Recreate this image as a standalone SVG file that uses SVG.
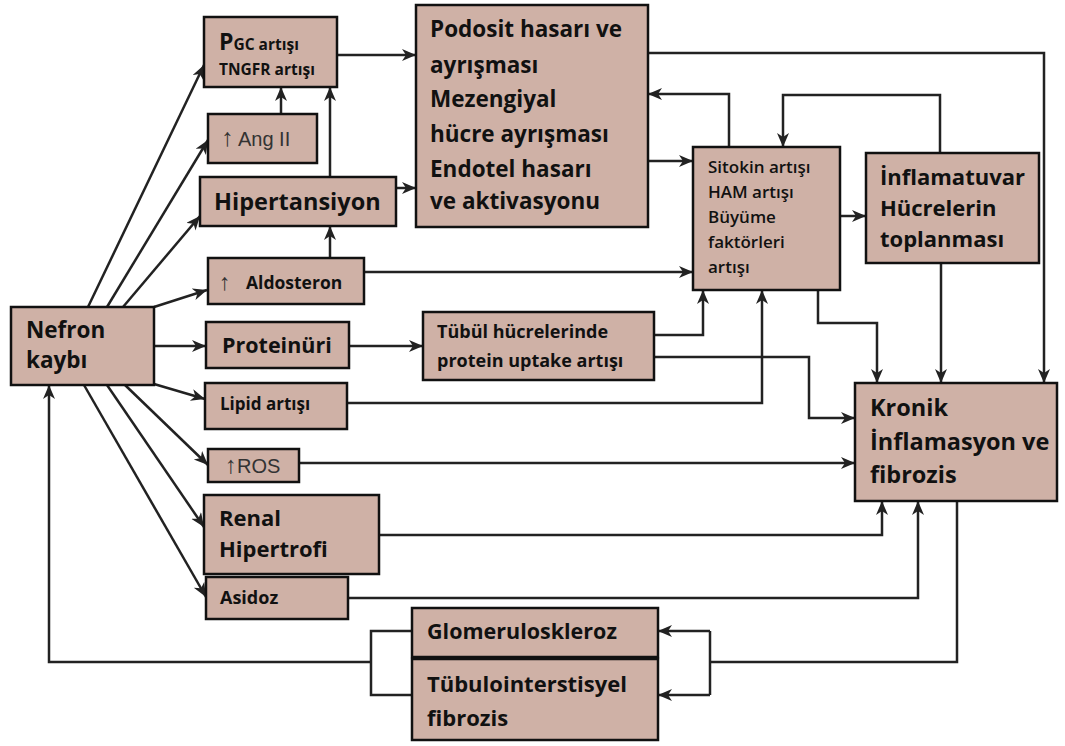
<svg xmlns="http://www.w3.org/2000/svg" width="1065" height="746" viewBox="0 0 1065 746">
<style>
.box{fill:#cfb1a6;stroke:#111;stroke-width:2.5}
.t{font-family:"Open Sans",Lato,"Liberation Sans",sans-serif;font-weight:bold;fill:#111}
.r{font-family:"Open Sans",Lato,"Liberation Sans",sans-serif;font-weight:600;fill:#111}
.g{font-family:"Liberation Sans",Arial,sans-serif;font-weight:normal;fill:#333}
.c{fill:none;stroke:#222;stroke-width:2.5;marker-end:url(#a)}
.n{fill:none;stroke:#222;stroke-width:2.5}
</style>
<defs>
<marker id="a" markerUnits="userSpaceOnUse" markerWidth="16" markerHeight="14" refX="14" refY="6" orient="auto">
<path d="M0,0 L14,6 L0,12 L4,6 z" fill="#222"/>
</marker>
</defs>
<rect width="1065" height="746" fill="#fff"/>
<g id="connectors">
<path class="c" d="M88,307 L204,65"/>
<path class="c" d="M107,307 L208,140"/>
<path class="c" d="M123,307 L200,216"/>
<path class="c" d="M154,307 L207,290"/>
<path class="c" d="M154,346 L206,346"/>
<path class="c" d="M154,384 L205,399"/>
<path class="c" d="M125,385 L208,465"/>
<path class="c" d="M107,385 L204,527"/>
<path class="c" d="M84,385 L206,597"/>
<path class="c" d="M281,114 L281,87"/>
<path class="c" d="M330,177 L330,87"/>
<path class="c" d="M330,258 L330,226"/>
<path class="c" d="M337,55 L416,55"/>
<path class="c" d="M396,188 L416,188"/>
<path class="c" d="M648,53 L1044,53 L1044,383"/>
<path class="c" d="M729,147 L729,94 L648,94"/>
<path class="c" d="M940,153 L940,95 L783,95 L783,147"/>
<path class="c" d="M648,161 L693,161"/>
<path class="c" d="M840,216 L866,216"/>
<path class="c" d="M364,272 L693,272"/>
<path class="c" d="M349,346 L423,346"/>
<path class="c" d="M654,335 L703,335 L703,290"/>
<path class="c" d="M347,403 L762,403 L762,290"/>
<path class="c" d="M818,290 L818,323 L877,323 L877,383"/>
<path class="c" d="M941,263 L941,383"/>
<path class="c" d="M654,357 L809,357 L809,418 L855,418"/>
<path class="c" d="M299,463 L855,463"/>
<path class="c" d="M379,535 L882,535 L882,501"/>
<path class="c" d="M348,598 L918,598 L918,501"/>
<path class="n" d="M957,501 L957,662 L710,662"/>
<path class="n" d="M710,631 L710,695"/>
<path class="c" d="M710,631 L658,631"/>
<path class="c" d="M710,695 L658,695"/>
<path class="n" d="M412,631 L371,631 L371,695 L412,695"/>
<path class="c" d="M371,662 L49,662 L49,385"/>
</g>
<g id="pgc">
<rect class="box" x="204" y="17" width="133" height="70"/>
<text class="t" x="219" y="50" font-size="23">P<tspan font-size="15.5">GC artışı</tspan></text>
<text class="t" x="219" y="75" font-size="15.5">TNGFR artışı</text>
</g>
<g id="angii">
<rect class="box" x="208" y="114" width="109" height="49"/>
<text class="g" x="221" y="146" font-size="20"><tspan font-size="25">↑</tspan> Ang II</text>
</g>
<g id="hipertansiyon">
<rect class="box" x="200" y="177" width="196" height="49"/>
<text class="t" x="214" y="210" font-size="23.5">Hipertansiyon</text>
</g>
<g id="aldosteron">
<rect class="box" x="208" y="258" width="156" height="46"/>
<text class="g" x="219" y="290" font-size="23">↑</text>
<text class="t" x="246" y="289" font-size="17.5">Aldosteron</text>
</g>
<g id="nefron">
<rect class="box" x="11" y="307" width="143" height="78"/>
<text class="t" x="26" y="338" font-size="22.5">Nefron</text>
<text class="t" x="26" y="368" font-size="22.5">kaybı</text>
</g>
<g id="proteinuri">
<rect class="box" x="206" y="322" width="143" height="46"/>
<text class="t" x="222" y="353" font-size="21.5">Proteinüri</text>
</g>
<g id="lipid">
<rect class="box" x="205" y="383" width="142" height="46"/>
<text class="t" x="220" y="410" font-size="17">Lipid artışı</text>
</g>
<g id="ros">
<rect class="box" x="208" y="449" width="91" height="33"/>
<text class="g" x="225" y="473" font-size="20"><tspan font-size="24">↑</tspan>ROS</text>
</g>
<g id="renal">
<rect class="box" x="204" y="495" width="175" height="79"/>
<text class="t" x="219" y="526" font-size="22">Renal</text>
<text class="t" x="219" y="557" font-size="22">Hipertrofi</text>
</g>
<g id="asidoz">
<rect class="box" x="206" y="577" width="142" height="42"/>
<text class="t" x="220" y="604" font-size="18">Asidoz</text>
</g>
<g id="podosit">
<rect class="box" x="416" y="5" width="232" height="222"/>
<text class="t" font-size="22.5">
<tspan x="430" y="37">Podosit hasarı ve</tspan>
<tspan x="430" y="73">ayrışması</tspan>
<tspan x="430" y="107">Mezengiyal</tspan>
<tspan x="430" y="142">hücre ayrışması</tspan>
<tspan x="430" y="177">Endotel hasarı</tspan>
<tspan x="430" y="209">ve aktivasyonu</tspan>
</text>
</g>
<g id="tubul">
<rect class="box" x="423" y="312" width="231" height="68"/>
<text class="t" x="437" y="338" font-size="18">Tübül hücrelerinde</text>
<text class="t" x="437" y="367" font-size="18">protein uptake artışı</text>
</g>
<g id="sitokin">
<rect class="box" x="693" y="147" width="147" height="143"/>
<text class="r" font-size="17">
<tspan x="708" y="173">Sitokin artışı</tspan>
<tspan x="708" y="198">HAM artışı</tspan>
<tspan x="708" y="223">Büyüme</tspan>
<tspan x="708" y="248">faktörleri</tspan>
<tspan x="708" y="273">artışı</tspan>
</text>
</g>
<g id="inflamatuvar">
<rect class="box" x="866" y="153" width="173" height="110"/>
<text class="t" font-size="22">
<tspan x="880" y="185">İnflamatuvar</tspan>
<tspan x="880" y="216">Hücrelerin</tspan>
<tspan x="880" y="247">toplanması</tspan>
</text>
</g>
<g id="kronik">
<rect class="box" x="855" y="383" width="202" height="118"/>
<text class="t" font-size="23.5">
<tspan x="870" y="416">Kronik</tspan>
<tspan x="870" y="450">İnflamasyon ve</tspan>
<tspan x="870" y="483">fibrozis</tspan>
</text>
</g>
<g id="glomeruloskleroz">
<rect class="box" x="412" y="608" width="246" height="49"/>
<text class="t" x="427" y="639" font-size="21.5">Glomeruloskleroz</text>
</g>
<g id="tubulointerstisyel">
<rect class="box" x="412" y="659" width="246" height="81"/>
<text class="t" x="427" y="692" font-size="22">Tübulointerstisyel</text>
<text class="t" x="427" y="726" font-size="22">fibrozis</text>
</g>
</svg>
